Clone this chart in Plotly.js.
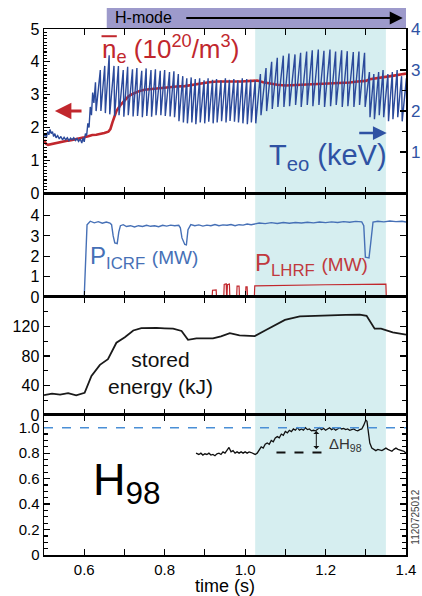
<!DOCTYPE html>
<html>
<head>
<meta charset="utf-8">
<script src="https://cdn.plot.ly/plotly-3.0.1.min.js"></script>
<style>html,body{margin:0;padding:0;background:#fff}#chart{width:422px;height:596px}</style>
</head>
<body>
<div id="chart"></div>
<script>
// ---------- DATA ----------
// Panel 1: line-averaged density ne (10^20/m^3), left axis
const neTime = [0.5,0.505,0.51,0.52,0.53,0.54,0.55,0.56,0.57,0.58,0.59,0.6,0.61,0.62,0.63,0.64,0.65,0.66,0.665,0.67,0.675,0.68,0.69,0.70,0.71,0.72,0.735,0.75,0.77,0.80,0.83,0.85,0.87,0.89,0.91,0.93,0.95,0.97,0.99,1.01,1.03,1.045,1.06,1.08,1.10,1.12,1.14,1.16,1.18,1.20,1.22,1.24,1.26,1.28,1.30,1.31,1.33,1.35,1.37,1.39,1.40];
const neValue = [1.62,1.5,1.47,1.5,1.53,1.55,1.57,1.6,1.62,1.64,1.66,1.7,1.73,1.77,1.78,1.8,1.83,1.87,1.95,2.15,2.35,2.5,2.68,2.83,2.95,3.02,3.1,3.15,3.18,3.22,3.25,3.26,3.3,3.35,3.38,3.4,3.41,3.4,3.4,3.42,3.43,3.38,3.34,3.3,3.28,3.29,3.3,3.31,3.32,3.34,3.35,3.36,3.37,3.4,3.42,3.47,3.5,3.53,3.58,3.62,3.64];
// Panel 1: central Te (keV), right axis. L-mode part, then sawtooth crashes
const teLTime = [0.5,0.503,0.506,0.509,0.512,0.515,0.518,0.521,0.524,0.527,0.53,0.534,0.538,0.542,0.546,0.55,0.554,0.558,0.562,0.566,0.57,0.574,0.578,0.582,0.586,0.59,0.594,0.597,0.6,0.603,0.606,0.609,0.612,0.615,0.618,0.621,0.624];
const teLValue = [1.38,1.45,1.35,1.5,1.42,1.55,1.45,1.5,1.38,1.45,1.35,1.4,1.32,1.38,1.3,1.36,1.3,1.35,1.28,1.34,1.3,1.35,1.28,1.33,1.26,1.32,1.22,1.35,1.25,1.45,1.4,1.7,1.6,2.1,1.9,2.45,2.2];
const crashTime = [0.628,0.640,0.651,0.662,0.674,0.685,0.697,0.708,0.720,0.731,0.743,0.754,0.766,0.777,0.789,0.800,0.812,0.823,
  0.834,0.845,0.855,0.866,0.876,0.887,0.898,0.908,0.919,0.929,0.940,0.951,0.961,0.972,0.982,0.993,1.004,1.014,1.025,
  1.038,1.052,1.066,1.080,1.095,1.109,1.124,1.138,1.153,1.167,1.182,1.196,1.211,1.225,1.240,1.254,1.269,1.283,1.297,
  1.309,1.320,1.332,1.343,1.355,1.366,1.378,1.389,1.401];
const peakTe = [2.7,3.0,3.1,3.36,3.1,3.1,3.0,3.08,3.02,3.05,2.98,3.04,3.0,3.02,2.98,3.0,2.95,2.97,
  2.9,2.85,2.8,2.82,2.78,2.8,2.75,2.8,2.76,2.78,2.75,2.8,2.76,2.78,2.75,2.8,2.78,2.76,2.75,
  2.9,3.05,3.2,3.3,3.35,3.4,3.38,3.42,3.45,3.48,3.5,3.47,3.5,3.45,3.48,3.46,3.44,3.45,3.42,
  2.95,2.9,2.95,3.0,2.9,2.95,3.0,2.85,2.8];
const troughTe = [2.0,2.0,1.95,1.92,1.88,1.9,1.86,1.9,1.87,1.88,1.85,1.88,1.86,1.9,1.9,1.88,1.87,1.85,
  1.75,1.72,1.7,1.72,1.68,1.72,1.7,1.74,1.7,1.72,1.75,1.72,1.76,1.74,1.72,1.7,1.68,1.72,1.7,
  1.9,2.0,2.05,2.1,2.1,2.12,2.15,2.1,2.15,2.12,2.15,2.1,2.12,2.15,2.1,2.12,2.1,2.15,2.1,
  1.85,1.8,1.9,1.85,1.75,1.8,1.85,1.75,1.75];
// Panel 2: RF powers (MW)
const icrfTime = [0.5,0.6,0.607,0.615,0.625,0.635,0.645,0.655,0.664,0.668,0.672,0.676,0.682,0.686,0.69,0.697,0.705,0.715,0.725,0.735,0.745,0.755,0.765,0.775,0.785,0.795,0.805,0.815,0.825,0.835,0.839,0.843,0.85,0.854,0.858,0.865,0.875,0.885,0.895,0.905,0.915,0.925,0.935,0.945,0.955,0.965,0.975,0.985,0.995,1.005,1.015,1.025,1.035,1.05,1.065,1.08,1.095,1.11,1.125,1.14,1.155,1.17,1.185,1.2,1.215,1.23,1.245,1.26,1.275,1.29,1.295,1.299,1.308,1.312,1.318,1.33,1.345,1.36,1.375,1.39,1.4];
const icrfValue = [0,0,3.55,3.72,3.64,3.7,3.62,3.68,3.63,3.55,3.0,2.65,2.62,3.2,3.5,3.55,3.46,3.5,3.44,3.5,3.46,3.52,3.47,3.5,3.45,3.52,3.48,3.53,3.5,3.52,3.4,2.9,2.58,2.56,3.3,3.55,3.5,3.54,3.48,3.53,3.5,3.56,3.5,3.54,3.52,3.56,3.5,3.55,3.53,3.58,3.55,3.6,3.63,3.6,3.65,3.61,3.66,3.62,3.66,3.63,3.67,3.64,3.68,3.65,3.69,3.66,3.7,3.67,3.71,3.69,3.5,1.95,1.92,2.6,3.68,3.72,3.69,3.73,3.7,3.72,3.68];
const lhrfTime = [0.5,0.918,0.919,0.928,0.929,0.947,0.948,0.953,0.954,0.955,0.956,0.961,0.962,0.979,0.98,0.985,0.986,1.001,1.002,1.005,1.006,1.023,1.024,1.1,1.2,1.3,1.35,1.351,1.4];
const lhrfValue = [0,0,0.33,0.35,0,0,0.62,0.65,0.05,0.05,0.6,0.63,0,0,0.53,0.53,0,0,0.5,0.5,0,0,0.55,0.58,0.6,0.62,0.63,0,0];
// Panel 3: stored energy (kJ)
const wTime = [0.5,0.52,0.54,0.56,0.58,0.597,0.601,0.618,0.639,0.659,0.68,0.701,0.722,0.742,0.76,0.78,0.80,0.821,0.842,0.858,0.879,0.90,0.92,0.94,0.962,0.986,1.024,1.053,1.075,1.099,1.136,1.18,1.219,1.25,1.285,1.302,1.322,1.338,1.367,1.4];
const wValue = [27,29,27.5,29.5,26.5,28.5,30,53,68,75.6,98,105.5,114.6,117.7,118,118,117.5,117,114,102,104,104.5,104,106.5,111,108,107,115.5,122,129,133.6,134.8,135.4,135.8,136,134.5,117,117,112,109];
// Panel 4: confinement factor H98
const hTime = [0.878,0.885,0.89,0.895,0.90,0.905,0.91,0.915,0.92,0.925,0.93,0.935,0.94,0.945,0.95,0.955,0.96,0.965,0.97,0.975,0.98,0.985,0.99,0.995,1.0,1.005,1.01,1.015,1.02,1.025,1.03,1.035,1.04,1.045,1.05,1.055,1.06,1.065,1.07,1.075,1.08,1.085,1.09,1.095,1.10,1.105,1.11,1.115,1.12,1.125,1.13,1.135,1.14,1.145,1.15,1.155,1.16,1.165,1.17,1.175,1.18,1.185,1.19,1.195,1.20,1.205,1.21,1.215,1.22,1.225,1.23,1.235,1.24,1.245,1.25,1.255,1.26,1.265,1.27,1.275,1.28,1.285,1.29,1.295,1.30,1.303,1.306,1.31,1.315,1.32,1.325,1.33,1.335,1.34,1.345,1.35,1.355,1.36,1.365,1.37,1.375,1.38,1.385,1.39,1.395,1.40];
const hValue = [0.80,0.79,0.80,0.785,0.795,0.79,0.80,0.785,0.79,0.78,0.795,0.80,0.79,0.81,0.80,0.82,0.845,0.81,0.82,0.80,0.81,0.80,0.81,0.80,0.81,0.80,0.81,0.805,0.80,0.79,0.80,0.83,0.85,0.84,0.87,0.88,0.87,0.90,0.89,0.92,0.93,0.92,0.95,0.94,0.97,0.96,0.98,0.97,0.99,0.98,1.00,0.98,0.99,0.98,1.0,0.985,0.99,0.975,0.98,0.975,0.99,1.0,0.985,0.995,0.98,0.99,1.0,0.985,0.995,0.98,0.99,1.0,0.99,0.995,0.985,0.99,0.98,0.985,0.99,0.98,0.975,0.985,0.99,1.02,1.06,1.05,0.98,0.88,0.84,0.83,0.82,0.83,0.825,0.82,0.83,0.84,0.83,0.82,0.815,0.83,0.84,0.83,0.825,0.82,0.815,0.80];
// Tick labels
const xTickVals = [0.6,0.8,1.0,1.2,1.4];
const xTickText = ['0.6','0.8','1.0','1.2','1.4'];
const hTickVals = [0,0.2,0.4,0.6,0.8,1.0];
const hTickText = ['0','0.2','0.4','0.6','0.8','1.0'];
const hmodeStart = 0.656, shadeStart = 1.025, shadeEnd = 1.35;

// ---------- BUILD ----------
const teTime = teLTime.slice(), teValue = teLValue.slice();
crashTime.forEach((t,i)=>{ teTime.push(t, t+0.0015); teValue.push(peakTe[i], troughTe[i]); });

const RED='#c1272d', BLUE='#2b4a9b', LBLUE='#4670b6', TBLUE='#2f52a3';
const FONT='Liberation Sans, Arial, Helvetica, sans-serif';

const traces = [
  {x: teTime, y: teValue, xaxis:'x', yaxis:'y5', mode:'lines', line:{color:BLUE, width:1.4}, hoverinfo:'skip'},
  {x: neTime, y: neValue, xaxis:'x', yaxis:'y', mode:'lines', line:{color:RED, width:2.6}, hoverinfo:'skip'},
  {x: icrfTime, y: icrfValue, xaxis:'x2', yaxis:'y2', mode:'lines', line:{color:LBLUE, width:1.4}},
  {x: lhrfTime, y: lhrfValue, xaxis:'x2', yaxis:'y2', mode:'lines', line:{color:RED, width:1.2}},
  {x: wTime, y: wValue, xaxis:'x3', yaxis:'y3', mode:'lines', line:{color:'#1a1a1a', width:1.8}},
  {x: hTime, y: hValue, xaxis:'x4', yaxis:'y4', mode:'lines', line:{color:'#111', width:1.3}}
];

const xBase = {range:[0.5,1.4], showgrid:false, zeroline:false, showline:true, linecolor:'#000', linewidth:1.5,
  mirror:'ticks', ticks:'inside', ticklen:6, tickwidth:1.2, tickcolor:'#000', tick0:0.5, dtick:0.1,
  showticklabels:false, tickfont:{family:FONT, size:15, color:'#000'}};
const yBase = {showgrid:false, zeroline:false, showline:true, linecolor:'#000', linewidth:1.5,
  ticks:'inside', ticklen:6, tickwidth:1.2, tickcolor:'#000', tickfont:{family:FONT, size:16, color:'#000'}};

const D1=[0.688,1], D2=[0.4905,0.688], D3=[0.2662,0.4905], D4=[0,0.2662];

const layout = {
  width:422, height:596, margin:{l:44, r:16, t:29, b:41},
  paper_bgcolor:'#fff', plot_bgcolor:'rgba(0,0,0,0)', showlegend:false,
  font:{family:FONT},
  xaxis: Object.assign({}, xBase, {anchor:'y', domain:[0,1]}),
  xaxis2: Object.assign({}, xBase, {anchor:'y2', matches:'x'}),
  xaxis3: Object.assign({}, xBase, {anchor:'y3', matches:'x'}),
  xaxis4: Object.assign({}, xBase, {anchor:'y4', matches:'x', showticklabels:true, tickmode:'array', tickvals:xTickVals, ticktext:xTickText,
     minor:{tickmode:'array', tickvals:[0.7,0.9,1.1,1.3], ticklen:6, tickwidth:1.2, tickcolor:'#000', ticks:'inside'},
     title:{text:'time (s)', font:{family:FONT, size:18, color:'#000'}, standoff:1}}),
  yaxis: Object.assign({}, yBase, {domain:D1, anchor:'x', range:[0,5], dtick:1, tick0:0, mirror:false,
     minor:{dtick:0.1, ticklen:3, tickcolor:'#000', ticks:'inside'}}),
  yaxis5: Object.assign({}, yBase, {overlaying:'y', side:'right', anchor:'x', range:[0,4], tickmode:'array', tickvals:[1,2,3,4],
     tickfont:{family:FONT, size:17, color:TBLUE}, minor:{dtick:0.5, ticklen:4, tickcolor:'#000', ticks:'inside'}}),
  yaxis2: Object.assign({}, yBase, {domain:D2, anchor:'x2', range:[0,5.1], tickmode:'array', tickvals:[0,1,2,3,4], mirror:'ticks'}),
  yaxis3: Object.assign({}, yBase, {domain:D3, anchor:'x3', range:[0,160], tickmode:'array', tickvals:[0,40,80,120], mirror:'ticks',
     minor:{dtick:20, ticklen:4, tickcolor:'#000', ticks:'inside'}}),
  yaxis4: Object.assign({}, yBase, {domain:D4, anchor:'x4', range:[0,1.1], tickmode:'array', tickvals:hTickVals, ticktext:hTickText, mirror:'ticks',
     tickfont:{family:FONT, size:15, color:'#000'}, minor:{dtick:0.05, ticklen:4, tickcolor:'#000', ticks:'inside'}}),
  shapes: [
    {type:'rect', xref:'x', yref:'paper', x0:shadeStart, x1:shadeEnd, y0:0, y1:1, fillcolor:'#d6eef0', line:{width:0}, layer:'below'},
    {type:'rect', xref:'x', yref:'paper', x0:hmodeStart, x1:1.4, y0:1.002, y1:1.04, fillcolor:'#9d9acb', line:{width:0}},
    {type:'line', xref:'x4', yref:'y4', x0:0.5, x1:1.4, y0:1.0, y1:1.0, line:{color:'#4a8fd6', width:1.5, dash:'dash'}},
    {type:'line', xref:'x4', yref:'y4', x0:1.078, x1:1.21, y0:0.805, y1:0.805, line:{color:'#111', width:2, dash:'dash'}},
    {type:'line', xref:'x', yref:'y', x0:0.643, x1:0.681, y0:4.78, y1:4.78, line:{color:RED, width:2}}
  ],
  annotations: [
    {xref:'x', yref:'paper', x:0.671, y:1.021, xanchor:'left', yanchor:'middle', text:'H-mode', showarrow:false, font:{family:FONT, size:16, color:'#000'}},
    {xref:'x', yref:'paper', x:1.392, y:1.021, axref:'x', ax:0.85, ayref:'pixel', ay:0, text:'', showarrow:true, arrowhead:2, arrowsize:1.3, arrowwidth:2, arrowcolor:'#000'},
    {xref:'x', yref:'y', x:0.638, y:4.4, xanchor:'left', yanchor:'middle', text:'n<sub>e</sub> (10<sup>20</sup>/m<sup>3</sup>)', showarrow:false, font:{family:FONT, size:26, color:RED}},
    {xref:'x', yref:'y', x:1.357, y:1.1, xanchor:'right', yanchor:'middle', text:'T<sub>eo</sub> (keV)', showarrow:false, font:{family:FONT, size:29, color:TBLUE}},
    {xref:'x', yref:'y', x:0.527, y:2.5, axref:'x', ax:0.597, ayref:'y', ay:2.5, text:'', showarrow:true, arrowhead:2, arrowsize:1.1, arrowwidth:3, arrowcolor:RED},
    {xref:'x', yref:'y', x:1.352, y:1.83, axref:'x', ax:1.28, ayref:'y', ay:1.83, text:'', showarrow:true, arrowhead:2, arrowsize:1.1, arrowwidth:2.5, arrowcolor:TBLUE},
    {xref:'x2', yref:'y2', x:0.61, y:1.95, xanchor:'left', yanchor:'middle', text:'P<sub>ICRF</sub> <span style="font-size:19px">(MW)</span>', showarrow:false, font:{family:FONT, size:24, color:LBLUE}},
    {xref:'x2', yref:'y2', x:1.02, y:1.6, xanchor:'left', yanchor:'middle', text:'P<sub>LHRF</sub> <span style="font-size:19px">(MW)</span>', showarrow:false, font:{family:FONT, size:24, color:'#c0393e'}},
    {xref:'x3', yref:'y3', x:0.79, y:57, xanchor:'center', yanchor:'middle', text:'stored<br>energy (kJ)', showarrow:false, font:{family:FONT, size:21, color:'#111'}},
    {xref:'x4', yref:'y4', x:0.618, y:0.57, xanchor:'left', yanchor:'middle', text:'H<sub>98</sub>', showarrow:false, font:{family:FONT, size:45, color:'#000'}},
    {xref:'x4', yref:'y4', x:1.204, y:0.87, xanchor:'left', yanchor:'middle', text:'ΔH<sub>98</sub>', showarrow:false, font:{family:FONT, size:15, color:'#333'}},
    {xref:'x4', yref:'y4', x:1.177, y:0.975, axref:'x4', ax:1.177, ayref:'y4', ay:0.82, text:'', showarrow:true, arrowhead:1, arrowside:'end+start', arrowsize:1, arrowwidth:1, arrowcolor:'#111', startarrowhead:1},
    {xref:'paper', yref:'paper', x:1.0, y:0.072, xanchor:'left', yanchor:'middle', xshift:2, text:'1120725012', textangle:-90, showarrow:false, font:{family:FONT, size:10, color:'#444'}}
  ]
};

Plotly.newPlot('chart', traces, layout, {staticPlot:true, displayModeBar:false});
</script>
</body>
</html>
